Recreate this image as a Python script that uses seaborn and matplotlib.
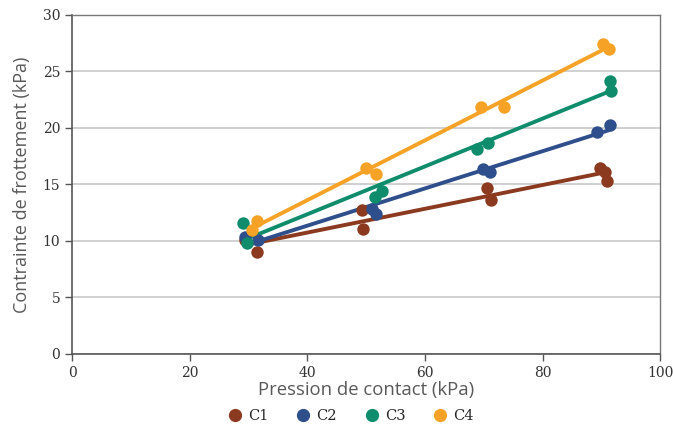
import pandas as pd
import numpy as np
import matplotlib
matplotlib.use("Agg")
import matplotlib.pyplot as plt
import seaborn as sns

# values (pression in kPa, contrainte in kPa)
c1_x = [29.4, 31.5, 49.3, 49.5, 70.6, 71.3, 89.8, 90.6, 91.0]
c1_y = [10.1, 9.0, 12.7, 11.1, 14.7, 13.6, 16.5, 16.1, 15.3]
c2_x = [29.4, 31.6, 51.0, 51.7, 69.8, 71.0, 89.3, 91.4]
c2_y = [10.35, 10.1, 12.8, 12.4, 16.4, 16.1, 19.6, 20.3]
c3_x = [29.0, 29.8, 51.5, 52.7, 68.9, 70.7, 91.5, 91.7]
c3_y = [11.6, 9.8, 13.9, 14.4, 18.1, 18.7, 24.2, 23.3]
c4_x = [30.6, 31.4, 50.0, 51.6, 69.6, 73.5, 90.2, 91.3]
c4_y = [11.0, 11.8, 16.5, 15.9, 21.9, 21.9, 27.4, 27.0]

series = ["C1", "C2", "C3", "C4"]
colors = ["#8b3a1f", "#2f4e8c", "#0e8c6c", "#f5a227"]
xs = [c1_x, c2_x, c3_x, c4_x]
ys = [c1_y, c2_y, c3_y, c4_y]

df = pd.concat([pd.DataFrame({"x": x, "y": y, "serie": s})
                for s, x, y in zip(series, xs, ys)], ignore_index=True)

sns.set_style("white")
fig = plt.figure(figsize=(6.73, 4.28), dpi=100)
ax = fig.add_axes([0.107, 0.173, 0.874, 0.792])

for s, c in zip(series, colors):
    sub = df[df["serie"] == s]
    sns.regplot(data=sub, x="x", y="y", ci=None, color=c, ax=ax, truncate=True,
                scatter_kws={"s": 80, "alpha": 1, "linewidths": 0, "zorder": 3},
                line_kws={"lw": 2.8, "zorder": 2})

ax.set_xlim(0, 100)
ax.set_ylim(0, 30)
ax.set_xticks(range(0, 101, 20))
ax.set_yticks(range(0, 31, 5))
ax.yaxis.grid(True, color="#c8c8c8", lw=1.2)
ax.set_axisbelow(True)

for side in ["left", "bottom"]:
    ax.spines[side].set_color("#555555")
    ax.spines[side].set_linewidth(1.2)
for side in ["top", "right"]:
    ax.spines[side].set_color("#777777")
    ax.spines[side].set_linewidth(1.0)

ax.tick_params(axis="both", direction="out", length=5, width=1, color="#555555",
               labelsize=10, labelcolor="#333333", left=True, bottom=True)
for lab in ax.get_xticklabels() + ax.get_yticklabels():
    lab.set_family("DejaVu Serif")

ax.set_xlabel("Pression de contact (kPa)", fontsize=13.3, color="#595959",
              family="Open Sans", labelpad=1)
ax.set_ylabel("Contrainte de frottement (kPa)", fontsize=13, color="#595959",
              family="Open Sans", labelpad=8)

handles = [plt.Line2D([], [], marker="o", ls="", color=c, markersize=8.5) for c in colors]
ax.legend(handles, series, loc="upper center", bbox_to_anchor=(0.47, -0.125), ncol=4,
          frameon=False, columnspacing=1.6, handletextpad=0.1, handlelength=1.6,
          prop={"family": "DejaVu Serif", "size": 10.5})

fig.savefig("out.png", dpi=100)
